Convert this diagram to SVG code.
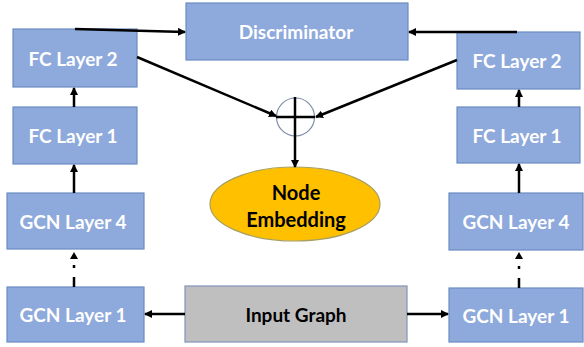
<svg xmlns="http://www.w3.org/2000/svg" width="584" height="347" viewBox="0 0 584 347">
<defs>
<marker id="ah" markerWidth="8" markerHeight="8" refX="7" refY="4" orient="auto" markerUnits="userSpaceOnUse">
<path d="M0,0 L8,4 L0,8 Z" fill="#000"/>
</marker>
<style>
.box{fill:#8EA9DB;stroke:#6A8CC4;stroke-width:1.2}
.lbl{font-family:Lato,"Liberation Sans",Arial,sans-serif;font-weight:bold;font-size:19px;fill:#fff;text-anchor:middle;dominant-baseline:central}
.dk{fill:#000}
.big{font-size:20px}
.ln{stroke:#000;stroke-width:2.5;fill:none}
</style>
</defs>
<rect width="584" height="347" fill="#fff"/>
<g id="discriminator"><rect class="box" x="186" y="3" width="222" height="57"/><text class="lbl" x="296" y="31">Discriminator</text></g>
<g id="fc2-left"><rect class="box" x="13" y="29" width="124" height="58"/><text class="lbl" x="73" y="58">FC Layer 2</text></g>
<g id="fc1-left"><rect class="box" x="13" y="107" width="124" height="57"/><text class="lbl" x="73" y="135">FC Layer 1</text></g>
<g id="gcn4-left"><rect class="box" x="7" y="193" width="137" height="56"/><text class="lbl" x="73" y="221">GCN Layer 4</text></g>
<g id="gcn1-left"><rect class="box" x="7" y="287" width="137" height="55"/><text class="lbl" x="73" y="314">GCN Layer 1</text></g>
<g id="fc2-right"><rect class="box" x="457" y="32" width="123" height="57"/><text class="lbl" x="517" y="60">FC Layer 2</text></g>
<g id="fc1-right"><rect class="box" x="457" y="107" width="123" height="56"/><text class="lbl" x="517" y="135">FC Layer 1</text></g>
<g id="gcn4-right"><rect class="box" x="449" y="193" width="134" height="57"/><text class="lbl" x="516" y="221">GCN Layer 4</text></g>
<g id="gcn1-right"><rect class="box" x="449" y="288" width="134" height="54"/><text class="lbl" x="516" y="315">GCN Layer 1</text></g>
<g id="input-graph"><rect x="185" y="286" width="222" height="56" fill="#BFBFBF" stroke="#7F95B8" stroke-width="1.2"/><text class="lbl dk" x="296" y="314">Input Graph</text></g>
<g id="node-embedding"><ellipse cx="295" cy="204" rx="85" ry="37" fill="#FFC000" stroke="#A8A060" stroke-width="1.2"/><text class="lbl dk big" x="296" y="192">Node</text><text class="lbl dk big" x="296" y="219">Embedding</text></g>
<g id="sum"><circle cx="295.5" cy="117" r="19" fill="#fff" stroke="#7F8BA8" stroke-width="1.2"/><line class="ln" x1="276" y1="117" x2="315" y2="117"/></g>
<g id="connectors">
<line class="ln" x1="75" y1="29" x2="185" y2="32" marker-end="url(#ah)"/>
<line class="ln" x1="517" y1="32" x2="409" y2="32" marker-end="url(#ah)"/>
<line class="ln" x1="137" y1="57" x2="276" y2="116" marker-end="url(#ah)"/>
<line class="ln" x1="457" y1="60" x2="316" y2="117" marker-end="url(#ah)"/>
<line class="ln" x1="295" y1="97" x2="295" y2="167" marker-end="url(#ah)"/>
<line class="ln" x1="74" y1="107" x2="74" y2="88" marker-end="url(#ah)"/>
<line class="ln" x1="74" y1="193" x2="74" y2="165" marker-end="url(#ah)"/>
<line class="ln" x1="519" y1="107" x2="519" y2="90" marker-end="url(#ah)"/>
<line class="ln" x1="519" y1="193" x2="519" y2="164" marker-end="url(#ah)"/>
<path class="ln" d="M74,287 V277 M74,268 V265" />
<path d="M70,259 L74,252 L78,259 Z" fill="#000"/>
<path class="ln" d="M519,288 V278 M519,269 V266" />
<path d="M515,259 L519,252 L523,259 Z" fill="#000"/>
<line class="ln" x1="185" y1="314" x2="145" y2="314" marker-end="url(#ah)"/>
<line class="ln" x1="407" y1="314" x2="448" y2="314" marker-end="url(#ah)"/>
</g>
</svg>
